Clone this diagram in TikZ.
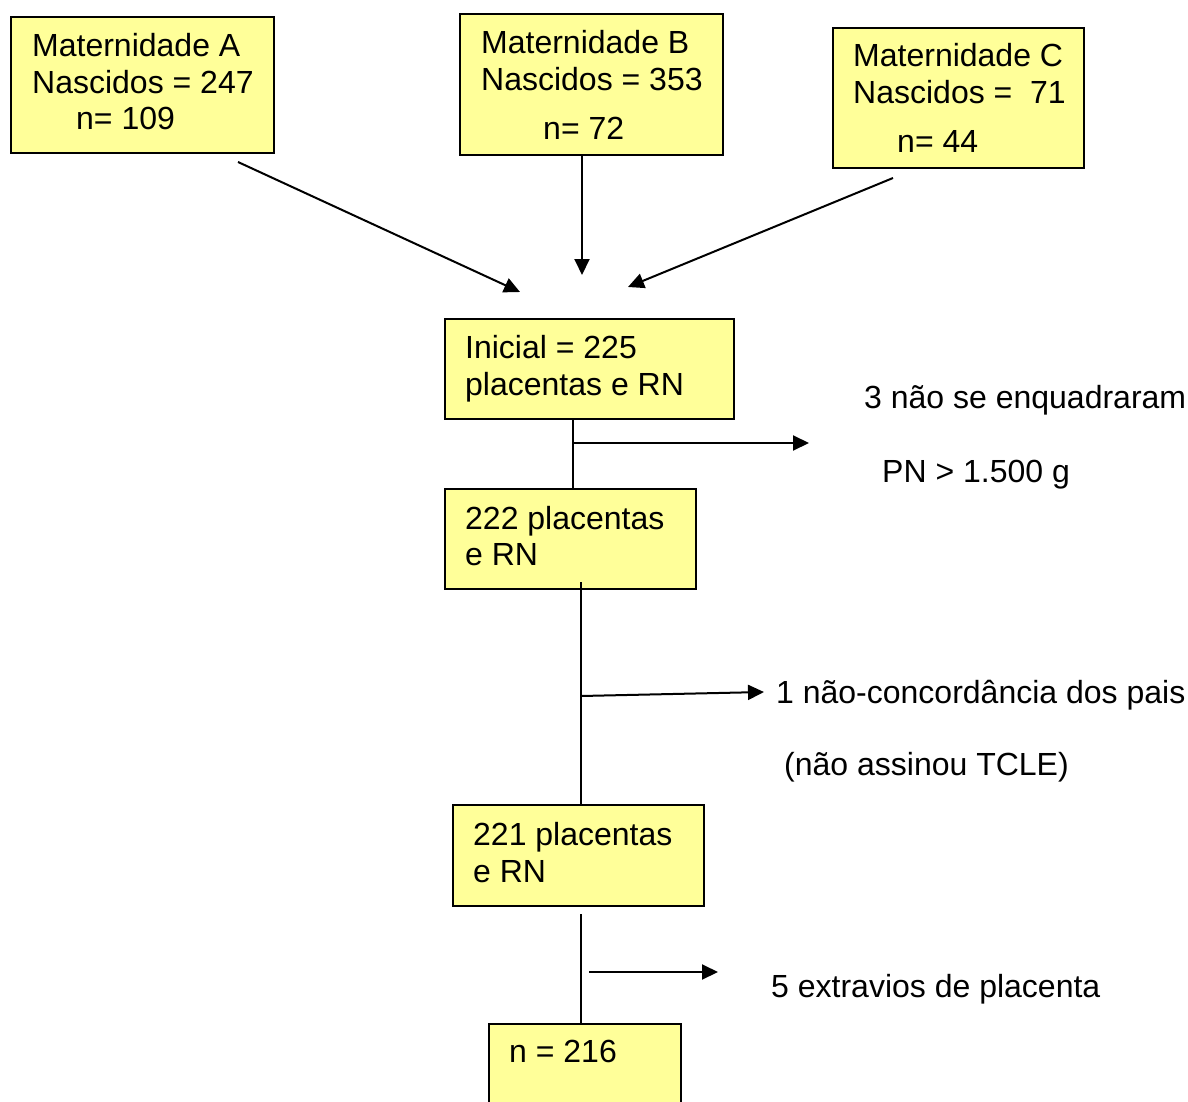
\documentclass[tikz,border=0pt]{standalone}
\usepackage{fontspec}
\setmainfont{Liberation Sans}
\usetikzlibrary{arrows.meta,positioning}
\definecolor{boxyellow}{RGB}{255,255,153}
\tikzset{
  box/.style={draw=black, line width=1.8pt, fill=boxyellow, inner sep=0pt, anchor=north west},
  txt/.style={anchor=base west, inner sep=0pt, font=\fontsize{32}{37}\selectfont},
  flow/.style={line width=2pt, -{Triangle[length=16pt,width=15pt]}},
  trunk/.style={line width=1.6pt}
}

\begin{document}
\begin{tikzpicture}[x=1pt, y=-1pt]
\useasboundingbox (0,0) rectangle (1188,1102);

% maternidades
\node[box, minimum width=263pt, minimum height=136pt] (matA) at (10,16) {};
\node[box, minimum width=263pt, minimum height=141pt] (matB) at (459,13) {};
\node[box, minimum width=251pt, minimum height=140pt] (matC) at (832,27) {};

\node[txt] (matAt1) at (32,57) {Maternidade A};
\node[txt] (matAt2) at (32,94) {Nascidos = 247};
\node[txt] (matAt3) at (76,130) {n= 109};

\node[txt] (matBt1) at (481,54) {Maternidade B};
\node[txt] (matBt2) at (481,91) {Nascidos = 353};
\node[txt] (matBt3) at (543,140) {n= 72};

\node[txt] (matCt1) at (853,67) {Maternidade C};
\node[txt] (matCt2) at (853,104) {Nascidos =\ \ 71};
\node[txt] (matCt3) at (897,153) {n= 44};

% fluxo principal
\node[box, minimum width=289pt, minimum height=100pt] (inicial) at (444,318) {};
\node[txt] (inicialt1) at (465,358) {Inicial = 225};
\node[txt] (inicialt2) at (465,395) {placentas e RN};

\node[box, minimum width=251pt, minimum height=100pt] (rn222) at (444,488) {};
\node[txt] (rn222t1) at (465,529) {222 placentas};
\node[txt] (rn222t2) at (465,565) {e RN};

\node[box, minimum width=251pt, minimum height=101pt] (rn221) at (452,804) {};
\node[txt] (rn221t1) at (473,845) {221 placentas};
\node[txt] (rn221t2) at (473,882) {e RN};

\node[box, minimum width=192pt, minimum height=120pt] (final) at (488,1023) {};
\node[txt] (finalt) at (509,1062) {n = 216};

% exclusoes
\node[txt] (exc1t1) at (864,408) {3 não se enquadraram};
\node[txt] (exc1t2) at (882,482) {PN > 1.500 g};
\node[txt] (exc2t1) at (776,703) {1 não-concordância dos pais};
\node[txt] (exc2t2) at (784,775) {(não assinou TCLE)};
\node[txt] (exc3t) at (771,997) {5 extravios de placenta};

% setas das maternidades
\coordinate (fromA) at (238,162);
\coordinate (toA) at (520,292);
\coordinate (toB) at (582,275);
\coordinate (fromC) at (893,178);
\coordinate (toC) at (628,287);
\draw[flow] (fromA) -- (toA);
\draw[flow] (matB.south -| toB) -- (toB);
\draw[flow] (fromC) -- (toC);

% linhas e desvios
\coordinate (cut1) at (573,443);
\coordinate (exc1) at (809,443);
\draw[trunk] (inicial.south -| cut1) -- (rn222.north -| cut1);
\draw[flow] (cut1) -- (exc1);

\coordinate (top2) at (581,582);
\coordinate (cut2) at (581,696);
\coordinate (exc2) at (764,692);
\draw[trunk] (top2) -- (rn221.north -| top2);
\draw[flow] (cut2) -- (exc2);

\coordinate (top3) at (581,914);
\coordinate (cut3) at (589,972);
\coordinate (exc3) at (718,972);
\draw[trunk] (top3) -- (final.north -| top3);
\draw[flow] (cut3) -- (exc3);

\end{tikzpicture}
\end{document}
